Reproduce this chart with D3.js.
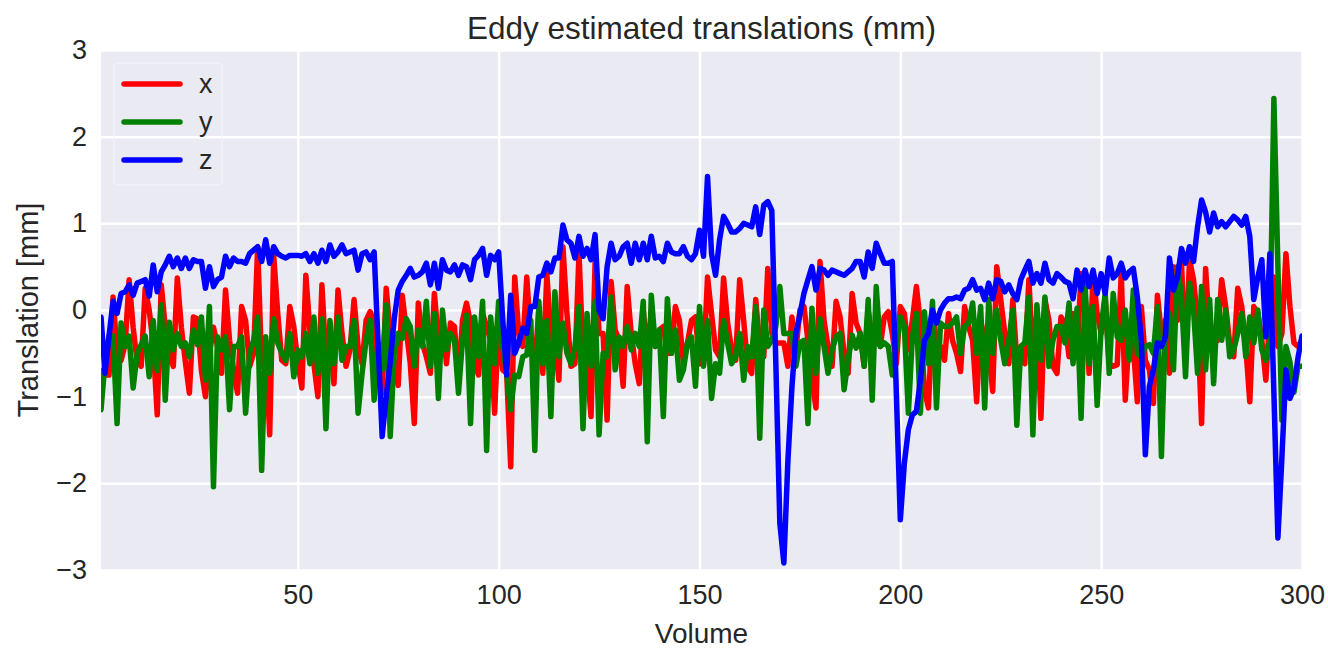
<!DOCTYPE html>
<html>
<head>
<meta charset="utf-8">
<script src="https://cdn.jsdelivr.net/npm/d3@7"></script>
<style>
    body { margin: 0; background: #fff; }
    text { font-family: "Liberation Sans", Arial, sans-serif; fill: #262626; }
</style>
</head>
<body>
<script>
// Eddy translations per volume (mm)
var xTrans = [
    -0.7, -0.75, -0.75, 0.15, -0.5, -0.58, -0.4, 0.35, -0.2, -0.6, -0.65, 0.25, 0.0, -0.4, -1.21, 0.29, -0.2, -0.5, -0.65, 0.37, -0.2, -0.6, -0.96, -0.08, -0.1,
    -0.7, -1.0, -0.5, -0.2, -0.42, -0.73, 0.23, -0.35, -0.69, -0.96, 0.04, -0.12, -0.65, -0.5, 0.73, -0.65, -0.42, -1.44, 0.62, -0.04, -0.58, -0.62, 0.04, -0.19, -0.6,
    -0.9, 0.4, -0.23, -0.62, -1.0, 0.29, -0.58, -0.27, -0.85, 0.23, -0.27, -0.65, -0.46, 0.12, -0.42, -0.62, -0.12, -0.02, -0.12, -0.73, -0.96, 0.25, -0.27, -0.62, -0.87,
    0.17, -0.23, -0.62, -1.31, 0.08, -0.38, -0.54, -0.73, 0.19, -0.35, -0.12, -0.62, -0.15, -0.19, -0.81, -0.12, 0.08, -0.15, -0.62, -0.75, -0.04, -0.19, -0.35, -1.19, -0.12,
    -0.69, -0.73, -1.81, 0.38, -0.27, -0.42, 0.38, -0.31, -0.65, 0.0, -0.73, 0.42, -0.31, -0.35, -0.81, 0.73, -0.04, -0.65, -0.62, 0.65, -0.5, -0.65, -1.23, 0.54, -0.27,
    -0.27, -1.27, 0.33, -0.23, -0.35, -0.88, 0.27, -0.27, -0.62, -0.85, 0.0, -0.54, 0.0, -0.42, -0.23, -0.19, -0.5, -0.5, 0.04, -0.12, -0.62, -0.38, -0.12, -0.08, -0.62,
    -0.62, 0.38, -0.04, -0.46, -0.54, 0.37, -0.15, -0.46, -0.58, 0.35, -0.12, -0.65, -0.73, 0.12, -0.42, -0.54, 0.48, -0.27, -0.38, -0.38, -0.38, -0.65, -0.08, -0.46, 0.0,
    0.04, -0.35, -0.81, -1.13, 0.56, -0.12, -0.42, -0.65, 0.1, -0.08, -0.5, -0.73, 0.19, -0.15, -0.27, -0.65, 0.0, -0.35, -0.31, -0.42, -0.08, -0.02, -0.27, -0.62, 0.04,
    -0.04, -0.46, -0.12, 0.27, -0.15, -0.92, -1.13, 0.0, -0.38, -0.42, -0.58, -0.04, -0.35, -0.5, -0.71, 0.04, -0.19, -0.35, -1.06, -0.12, -0.35, -0.46, -0.94, 0.5, 0.12,
    -0.27, -0.62, 0.12, -0.58, -0.58, -0.62, 0.35, -0.54, -0.04, -1.25, 0.12, -0.12, -0.65, -0.73, -0.08, -0.15, -0.54, -0.04, -0.5, 0.42, 0.19, -0.73, 0.42, -0.04, -0.27,
    0.15, -0.62, -0.65, -0.63, 0.42, -1.04, -0.27, -0.42, -1.06, 0.04, -0.58, -0.69, -1.08, 0.17, -0.27, -0.35, -0.73, 0.5, -0.12, 0.54, -0.58, 0.58, 0.35, -0.12, -1.31,
    0.48, -0.27, -0.38, -0.35, 0.35, 0.04, -0.38, -0.54, 0.25, 0.04, -0.42, -1.06, 0.04, -0.04, -0.35, -0.81, -0.04, 0.38, -0.42, -0.27, 0.65, 0.04, -0.38, -0.42, -0.35
];
var yTrans = [
    -1.15, -0.6, -0.3, -0.3, -1.31, -0.15, -0.42, -0.3, -0.9, -0.5, -0.4, -0.3, -0.77, -0.12, -0.7, 0.06, -1.04, -0.14, -0.46, -0.27, -0.42, -0.38, -0.54, -0.23, -0.4,
    -0.08, -0.81, 0.04, -2.04, -0.31, -0.46, -0.31, -1.15, -0.42, -0.42, -0.31, -1.19, -0.5, -0.35, -0.08, -1.85, -0.31, -0.73, -0.1, -0.38, -0.5, -0.58, -0.27, -0.77, -0.46,
    -0.54, -0.27, -0.62, -0.08, -0.73, -0.1, -1.37, -0.12, -0.62, -0.08, -0.58, -0.42, -0.42, -0.12, -1.19, -0.73, -0.35, -0.12, -1.04, -0.38, -0.69, 0.06, -1.46, -0.5, -0.27,
    -0.33, -0.1, -0.19, -0.65, -0.23, -0.42, 0.1, -0.65, -0.04, -1.02, 0.0, -0.46, -0.27, -0.35, -0.96, -0.35, -0.06, -1.31, -0.08, -0.54, 0.1, -1.62, -0.08, -0.62, 0.1,
    -0.42, -0.73, -1.15, -0.75, -0.77, -0.54, -0.52, -0.12, -1.62, 0.1, -0.62, -0.12, -1.23, 0.21, -0.54, -0.15, -0.5, -0.62, -0.42, 0.04, -1.37, -0.04, -0.65, 0.1, -1.44,
    -0.5, -0.54, 0.15, -0.69, -0.31, -0.42, -0.19, -0.46, -0.27, -0.42, 0.1, -1.52, 0.17, -0.42, -0.23, -1.23, 0.13, -0.5, -0.23, -0.81, -0.69, -0.38, -0.31, -0.88, 0.04,
    -0.65, -0.12, -1.02, -0.62, -0.73, -0.12, -0.38, -0.62, -0.54, -0.27, -0.81, -0.42, -0.54, 0.04, -1.48, 0.0, -0.42, -0.35, -0.19, 0.27, -0.27, -0.27, -0.27, -0.65, -0.38,
    -0.35, -1.31, 0.02, -0.73, -0.1, -0.42, -0.73, -0.46, -0.31, -0.27, -0.92, -0.58, -0.29, -0.44, -0.27, -0.65, 0.12, -1.04, 0.27, -0.42, -0.38, -0.42, -0.75, -0.42, -0.08,
    -0.19, -1.19, -0.31, -0.04, -1.19, -0.02, -0.62, 0.1, -1.13, -0.15, -0.19, -0.19, -0.15, -0.08, -0.5, -0.19, -0.15, 0.08, -0.5, 0.04, -1.13, 0.12, -0.5, 0.0, -0.35,
    -0.62, -0.35, 0.0, -1.33, -0.42, -0.38, 0.15, -1.44, 0.06, -0.58, 0.15, -0.65, -0.35, -0.19, -0.19, -0.38, 0.08, -0.62, 0.02, -1.25, 0.27, -0.62, 0.04, -1.1, -0.2,
    0.19, -0.73, 0.19, -0.31, -0.35, 0.0, -0.58, 0.23, -0.5, -0.54, -0.42, -0.4, -0.5, 0.04, -1.69, -0.12, -0.04, -0.69, 0.5, 0.15, -0.77, 0.31, 0.0, -0.73, 0.27,
    -0.69, 0.12, -0.85, 0.12, -0.35, 0.0, -0.54, -0.46, -0.27, -0.04, -0.54, -0.08, -0.38, 0.0, -0.46, -0.58, -0.35, 2.44, 0.5, -1.27, -0.42, -0.6, -0.95, -0.65, -0.65
];
var zTrans = [
    -0.08, -0.73, -0.3, 0.1, -0.04, 0.19, 0.21, 0.29, 0.17, 0.31, 0.33, 0.35, 0.16, 0.52, 0.21, 0.44, 0.52, 0.62, 0.5, 0.6, 0.48, 0.6, 0.48, 0.58, 0.56,
    0.56, 0.25, 0.5, 0.27, 0.35, 0.38, 0.62, 0.5, 0.6, 0.56, 0.56, 0.54, 0.65, 0.69, 0.73, 0.56, 0.81, 0.54, 0.73, 0.65, 0.62, 0.6, 0.63, 0.63, 0.63,
    0.62, 0.65, 0.56, 0.65, 0.54, 0.69, 0.56, 0.75, 0.62, 0.67, 0.75, 0.65, 0.67, 0.69, 0.46, 0.65, 0.67, 0.58, 0.67, -0.4, -1.46, -1.0, -0.6, -0.1, 0.23,
    0.33, 0.4, 0.48, 0.38, 0.4, 0.44, 0.54, 0.29, 0.54, 0.25, 0.58, 0.46, 0.44, 0.52, 0.4, 0.52, 0.5, 0.35, 0.58, 0.63, 0.71, 0.4, 0.63, 0.58, 0.67,
    -0.1, -0.75, 0.17, -0.5, -0.38, -0.21, -0.27, 0.04, 0.04, 0.38, 0.4, 0.54, 0.44, 0.6, 0.6, 0.98, 0.81, 0.77, 0.6, 0.85, 0.62, 0.71, 0.58, 0.87, 0.0,
    -0.1, 0.5, 0.77, 0.58, 0.62, 0.73, 0.77, 0.54, 0.77, 0.58, 0.77, 0.58, 0.85, 0.6, 0.62, 0.56, 0.77, 0.67, 0.65, 0.65, 0.73, 0.62, 0.58, 0.65, 0.92,
    0.62, 1.54, 0.65, 0.4, 0.81, 1.08, 1.0, 0.9, 0.9, 0.94, 1.0, 0.98, 0.96, 1.19, 0.87, 1.21, 1.25, 1.15, -0.6, -2.46, -2.92, -1.75, -0.9, -0.27, -0.05,
    0.19, 0.35, 0.5, 0.23, 0.48, 0.46, 0.4, 0.46, 0.44, 0.42, 0.4, 0.44, 0.48, 0.56, 0.56, 0.38, 0.67, 0.48, 0.77, 0.65, 0.54, 0.54, 0.56, -0.95, -2.42,
    -1.77, -1.38, -1.21, -1.17, -0.81, -0.35, -0.27, 0.0, -0.15, 0.0, 0.08, 0.13, 0.13, 0.15, 0.13, 0.23, 0.25, 0.35, 0.23, 0.25, 0.12, 0.31, 0.13, 0.35, 0.33,
    0.21, 0.29, 0.19, 0.12, 0.35, 0.46, 0.56, 0.31, 0.42, 0.31, 0.54, 0.35, 0.31, 0.42, 0.38, 0.33, 0.31, 0.13, 0.46, 0.23, 0.46, 0.27, 0.46, 0.19, 0.42,
    0.19, 0.6, 0.37, 0.42, 0.54, 0.37, 0.44, 0.48, 0.15, -0.35, -1.67, -0.88, -0.69, -0.38, -0.42, -0.31, 0.6, 0.23, 0.38, 0.71, 0.54, 0.73, 0.56, 0.96, 1.27,
    1.13, 0.9, 1.12, 0.96, 1.02, 0.96, 1.02, 1.08, 1.04, 0.98, 1.08, 0.85, 0.12, 0.38, 0.58, -0.31, 0.65, -0.95, -2.63, -1.7, -0.69, -1.02, -0.9, -0.55, -0.3
];
var seriesNames = ['x', 'y', 'z'];
var seriesColors = ['#ff0000', '#008000', '#0000ff'];
var xTicks = [50, 100, 150, 200, 250, 300];
var yTicks = [-3, -2, -1, 0, 1, 2, 3];

var svgWidth = 1328,
    svgHeight = 651,
    margin = { top: 50, right: 26, bottom: 81, left: 101 },
    width = svgWidth - margin.left - margin.right,
    height = svgHeight - margin.top - margin.bottom;

var series = [xTrans, yTrans, zTrans].map(function (values, i) {
    return {
        name: seriesNames[i],
        color: seriesColors[i],
        points: values.map((v, j) => [j + 1, v])
    };
});

var xScale = d3.scaleLinear().domain([1, 300]).range([0, width]);
var yScale = d3.scaleLinear().domain([-3, 3]).range([height, 0]);

var svg = d3.select('body').append('svg')
    .attr('width', svgWidth)
    .attr('height', svgHeight);

svg.append('defs').append('clipPath')
    .attr('id', 'plot-clip')
    .append('rect')
    .attr('width', width)
    .attr('height', height);

var plot = svg.append('g')
    .attr('transform', 'translate(' + margin.left + ',' + margin.top + ')');

plot.append('rect')
    .attr('width', width)
    .attr('height', height)
    .attr('fill', '#eaeaf2');

// grid lines
plot.append('g')
    .attr('class', 'x-grid')
    .attr('transform', 'translate(0,' + height + ')')
    .call(d3.axisBottom(xScale).tickValues(xTicks).tickSize(-height).tickFormat(''))
    .call(g => g.select('.domain').remove())
    .call(g => g.selectAll('line').attr('stroke', '#fff').attr('stroke-width', 2.5));

plot.append('g')
    .attr('class', 'y-grid')
    .call(d3.axisLeft(yScale).tickValues(yTicks).tickSize(-width).tickFormat(''))
    .call(g => g.select('.domain').remove())
    .call(g => g.selectAll('line').attr('stroke', '#fff').attr('stroke-width', 2.5));

// tick labels
plot.append('g')
    .attr('class', 'x-axis')
    .attr('transform', 'translate(0,' + height + ')')
    .call(d3.axisBottom(xScale).tickValues(xTicks).tickSize(0).tickPadding(15))
    .call(g => g.select('.domain').remove())
    .call(g => g.selectAll('text').attr('font-size', 27).attr('fill', '#262626'));

plot.append('g')
    .attr('class', 'y-axis')
    .call(d3.axisLeft(yScale).tickValues(yTicks).tickSize(0).tickPadding(14).tickFormat(d3.format('d')))
    .call(g => g.select('.domain').remove())
    .call(g => g.selectAll('text').attr('font-size', 27).attr('fill', '#262626'));

var line = d3.line()
    .x(d => xScale(d[0]))
    .y(d => yScale(d[1]));

plot.append('g')
    .attr('clip-path', 'url(#plot-clip)')
    .selectAll('path')
    .data(series)
    .enter().append('path')
    .attr('d', d => line(d.points))
    .attr('fill', 'none')
    .attr('stroke', d => d.color)
    .attr('stroke-width', 5.5)
    .attr('stroke-linejoin', 'round')
    .attr('stroke-linecap', 'round');

// legend
var legend = plot.append('g')
    .attr('class', 'legend')
    .attr('transform', 'translate(13,13)');

legend.append('rect')
    .attr('width', 108)
    .attr('height', 122)
    .attr('rx', 2)
    .attr('fill', 'none')
    .attr('stroke', '#f4f4f8')
    .attr('stroke-width', 1);

var legendItems = legend.selectAll('.legend-item')
    .data(series)
    .enter().append('g')
    .attr('class', 'legend-item')
    .attr('transform', (d, i) => 'translate(0,' + (21 + i * 38) + ')');

legendItems.append('line')
    .attr('x1', 10)
    .attr('x2', 66)
    .attr('stroke', d => d.color)
    .attr('stroke-width', 5.5)
    .attr('stroke-linecap', 'round');

legendItems.append('text')
    .attr('x', 85)
    .attr('dy', '0.32em')
    .attr('font-size', 27)
    .text(d => d.name);

// title and axis labels
svg.append('text')
    .attr('x', margin.left + width / 2)
    .attr('y', 39)
    .attr('text-anchor', 'middle')
    .attr('font-size', 31.5)
    .text('Eddy estimated translations (mm)');

svg.append('text')
    .attr('x', margin.left + width / 2)
    .attr('y', 643)
    .attr('text-anchor', 'middle')
    .attr('font-size', 28)
    .text('Volume');

svg.append('text')
    .attr('transform', 'translate(38,' + (margin.top + height / 2) + ') rotate(-90)')
    .attr('text-anchor', 'middle')
    .attr('font-size', 29)
    .text('Translation [mm]');
</script>
</body>
</html>
